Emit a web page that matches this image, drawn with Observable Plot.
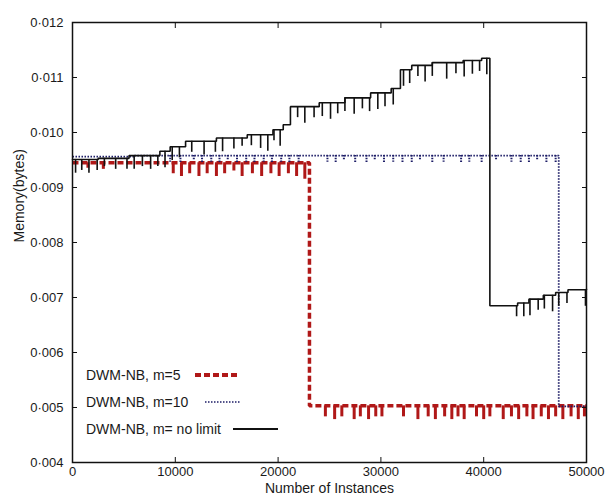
<!DOCTYPE html>
<html><head><meta charset="utf-8">
<script src="https://cdn.jsdelivr.net/npm/d3@7"></script>
<script src="https://cdn.jsdelivr.net/npm/@observablehq/plot@0.6"></script>
<style>
body{margin:0;background:#fff;}
#wrap{position:relative;width:607px;height:500px;font-family:"Liberation Sans",Arial,sans-serif;}
.leg{position:absolute;font-size:14px;color:#1a1a1a;line-height:16px;white-space:nowrap;}
.smp{position:absolute;}
</style></head><body><div id="wrap"></div>
<script>
// ---- data ----
const xTicks = [0, 10000, 20000, 30000, 40000, 50000];
const yTicks = [0.004, 0.005, 0.006, 0.007, 0.008, 0.009, 0.010, 0.011, 0.012];
const seriesNames = ["DWM-NB, m=5", "DWM-NB, m=10", "DWM-NB, m= no limit"];
const xLabel = "Number of Instances";
const yLabel = "Memory(bytes)";

// step levels [instances, memory]
const m5Steps = [[0, 0.00945], [23050, 0.00503], [50000, 0.00503]];
const m10Steps = [[0, 0.00956], [6000, 0.00958], [47300, 0.00502], [50000, 0.00502]];
const noLimitSteps = [
  [0, 0.00951], [2500, 0.00953], [5500, 0.00958], [8500, 0.00966], [9500, 0.00974],
  [11000, 0.00984], [14000, 0.00990], [17000, 0.00996], [19500, 0.01005], [20500, 0.01014],
  [21200, 0.01047], [24000, 0.01054], [26500, 0.01063], [29000, 0.01072], [31000, 0.01080],
  [31900, 0.01114], [33000, 0.01122], [35000, 0.01127], [38000, 0.01131], [39800, 0.01135],
  [40600, 0.00685], [43300, 0.00690], [44400, 0.00697], [45800, 0.00704], [47000, 0.00709],
  [48200, 0.00714], [50000, 0.00715]
];

// downward spikes [instances, depth]
const m5Dips = [
  [1500, 0.0001], [3000, 0.00012], [9800, 0.0002], [10600, 0.00025], [11400, 0.0002], [12300, 0.00025],
  [13100, 0.0002], [14000, 0.00025], [14800, 0.0002], [15700, 0.00015], [16500, 0.00025], [17500, 0.0002],
  [18400, 0.00025], [19300, 0.0002], [20100, 0.00025], [21000, 0.0002], [21800, 0.00025], [22600, 0.0003],
  [24600, 0.0002], [25500, 0.00025], [26200, 0.0002], [27400, 0.00025], [28000, 0.0002], [28800, 0.00025],
  [29500, 0.0002], [30100, 0.0002], [32200, 0.0002], [33600, 0.00025], [34600, 0.0002], [35300, 0.00025],
  [36200, 0.0002], [36900, 0.00025], [37500, 0.0002], [38100, 0.00025], [39300, 0.0002], [40000, 0.00025],
  [40600, 0.0002], [41900, 0.00025], [42700, 0.0002], [43400, 0.00025], [44200, 0.0002], [44800, 0.00025],
  [45600, 0.0002], [46300, 0.00025], [47000, 0.0002], [47700, 0.00025], [48500, 0.0002], [49200, 0.00025],
  [49800, 0.0002]
];
const m10Dips = [
  [9500, 0.00012], [10500, 0.00015], [11800, 0.0001], [12600, 0.00015], [13500, 0.00012], [14300, 0.00015],
  [15100, 0.0001], [16000, 0.00015], [16900, 0.00012], [17700, 0.00015], [18600, 0.00012], [19400, 0.00015],
  [20300, 0.00012], [21100, 0.00015], [22000, 0.00012], [24800, 0.00012], [25600, 0.00015], [26400, 0.0001],
  [27500, 0.00015], [28600, 0.00015], [29400, 0.0001], [30300, 0.00015], [31200, 0.00012], [32100, 0.00015],
  [33000, 0.00015], [33800, 0.0001], [35000, 0.00015], [36100, 0.00012], [37800, 0.00015], [38600, 0.00012],
  [39800, 0.00015], [41200, 0.0001], [42700, 0.00012], [43600, 0.00015], [44400, 0.00015], [45200, 0.0001],
  [46100, 0.00015], [47000, 0.00015]
];
const noLimitDips = [
  [300, 0.00025], [900, 0.0002], [1600, 0.00025], [2400, 0.0002], [3100, 0.00015], [4200, 0.0002],
  [5300, 0.0002], [6000, 0.00025], [6800, 0.0002], [7600, 0.00025], [8300, 0.0002], [9000, 0.0003],
  [9700, 0.00025], [10400, 0.0002], [11600, 0.0002], [12800, 0.00025], [13900, 0.0002], [14600, 0.00025],
  [15700, 0.0002], [16500, 0.00015], [17400, 0.0002], [18300, 0.00025], [19000, 0.0003], [19600, 0.0002],
  [20200, 0.0003], [21900, 0.0002], [22600, 0.0003], [23500, 0.0002], [24300, 0.00025], [25100, 0.0003],
  [25800, 0.0002], [26500, 0.00025], [27400, 0.0003], [28200, 0.0002], [28900, 0.00025], [29700, 0.0003],
  [30400, 0.00025], [31200, 0.0003], [32200, 0.0003], [32800, 0.00025], [33600, 0.0002], [34300, 0.0003],
  [35000, 0.00025], [36400, 0.0003], [37300, 0.0002], [38100, 0.0003], [38900, 0.00025], [39600, 0.0002],
  [40300, 0.0003], [43200, 0.0002], [43900, 0.00025], [44500, 0.0003], [45300, 0.0002], [45900, 0.00025],
  [46700, 0.0003], [47300, 0.00025], [48100, 0.0002], [49900, 0.0003]
];

const colors = {m5: "#b01818", m10: "#1c1c66", nl: "#111111"};
const dashes = {m5: "6,3", m10: "1.5,1.5"};

// ---- build ----
function levelAt(steps, x) {
  let v = steps[0][1];
  for (const [sx, sv] of steps) if (sx <= x) v = sv;
  return v;
}
function dipRows(steps, dips) {
  return dips.map(([x, d]) => { const top = levelAt(steps, x); return {x, y1: top, y2: top - d}; });
}
const fmtY = d => d3.format(".3f")(d).replace(".", "\u00b7");

const chart = Plot.plot({
  width: 607, height: 500,
  marginLeft: 72, marginRight: 21, marginTop: 22, marginBottom: 38,
  x: {domain: [0, 50000]},
  y: {domain: [0.004, 0.012]},
  style: {fontFamily: "Liberation Sans, Arial, sans-serif", fontSize: "13px", color: "#1a1a1a", background: "#fff"},
  marks: [
    // series m=5 (red dashed)
    Plot.ruleX(dipRows(m5Steps, m5Dips), {x: "x", y1: "y1", y2: "y2", stroke: colors.m5, strokeWidth: 3, strokeLinecap: "butt"}),
    Plot.line(m5Steps, {x: d => d[0], y: d => d[1], curve: "step-after", stroke: colors.m5, strokeWidth: 3.5, strokeDasharray: dashes.m5, strokeLinecap: "butt", strokeLinejoin: "miter"}),
    // series m=10 (blue dotted)
    Plot.ruleX(dipRows(m10Steps, m10Dips), {x: "x", y1: "y1", y2: "y2", stroke: colors.m10, strokeWidth: 2, strokeDasharray: "1.5,1.2", strokeLinecap: "butt"}),
    Plot.line(m10Steps, {x: d => d[0], y: d => d[1], curve: "step-after", stroke: colors.m10, strokeWidth: 1.8, strokeDasharray: dashes.m10, strokeLinecap: "butt", strokeLinejoin: "miter"}),
    // series no limit (black solid)
    Plot.ruleX(dipRows(noLimitSteps, noLimitDips), {x: "x", y1: "y1", y2: "y2", stroke: colors.nl, strokeWidth: 1.6}),
    Plot.line(noLimitSteps, {x: d => d[0], y: d => d[1], curve: "step-after", stroke: colors.nl, strokeWidth: 1.6, strokeLinejoin: "miter"}),
    // axes
    Plot.axisX(xTicks, {anchor: "bottom", tickSize: -5, tickPadding: 9, tickFormat: d => String(d), label: null, stroke: "#111"}),
    Plot.axisX(xTicks, {anchor: "top", tickSize: -5, tickFormat: () => "", label: null, stroke: "#111"}),
    Plot.axisY(yTicks, {anchor: "left", tickSize: -5, tickPadding: 14, tickFormat: fmtY, label: null, stroke: "#111"}),
    Plot.axisY(yTicks, {anchor: "right", tickSize: -5, tickFormat: () => "", label: null, stroke: "#111"}),
    Plot.text([xLabel], {text: d => d, frameAnchor: "bottom", dy: 30, fontSize: 14, fill: "#1a1a1a"}),
    Plot.text([yLabel], {text: d => d, frameAnchor: "left", dx: -53, rotate: -90, fontSize: 14, fill: "#1a1a1a"}),
    Plot.frame({stroke: "#111", strokeWidth: 1.5})
  ]
});

const wrap = document.getElementById("wrap");
wrap.appendChild(chart);

// legend overlay (inside plot, lower left)
const legendRows = [
  {name: seriesNames[0], cy: 375, x1: 195, x2: 238, stroke: colors.m5, w: 4, dash: "6,3"},
  {name: seriesNames[1], cy: 402, x1: 205, x2: 241, stroke: colors.m10, w: 1.6, dash: "1.5,1.5"},
  {name: seriesNames[2], cy: 429, x1: 233, x2: 278, stroke: colors.nl, w: 1.8, dash: null}
];
for (const r of legendRows) {
  const t = document.createElement("div");
  t.className = "leg";
  t.style.left = "86px";
  t.style.top = (r.cy - 8) + "px";
  t.textContent = r.name;
  wrap.appendChild(t);
  const s = d3.create("svg").attr("class", "smp").attr("width", r.x2 - r.x1).attr("height", 8)
    .style("left", r.x1 + "px").style("top", (r.cy - 4) + "px");
  s.append("line").attr("x1", 0).attr("x2", r.x2 - r.x1).attr("y1", 4).attr("y2", 4)
    .attr("stroke", r.stroke).attr("stroke-width", r.w).attr("stroke-dasharray", r.dash);
  wrap.appendChild(s.node());
}
</script>
</body></html>
